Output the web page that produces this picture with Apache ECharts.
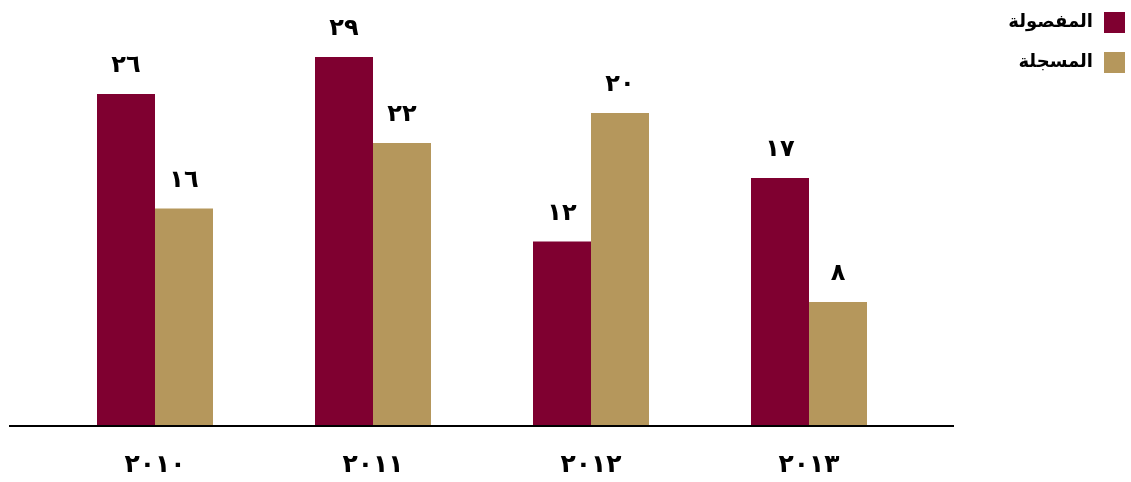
<!DOCTYPE html>
<html>
<head>
<meta charset="utf-8">
<script src="https://cdn.jsdelivr.net/npm/echarts@6/dist/echarts.min.js"></script>
<style>html,body{margin:0;padding:0;background:#fff;}#c{width:1131px;height:482px;}</style>
</head>
<body>
<div id="c"></div>
<script>
var categories = ['٢٠١٠', '٢٠١١', '٢٠١٢', '٢٠١٣'];
var seriesNames = ['المفصولة', 'المسجلة'];
// bar heights as drawn in the picture
var dismissedBars = [26.1, 29, 14.5, 19.5];
var registeredBars = [17.1, 22.25, 24.6, 9.75];
// numbers printed above the bars
var dismissedLabels = ['٢٦', '٢٩', '١٢', '١٧'];
var registeredLabels = ['١٦', '٢٢', '٢٠', '٨'];

var chart = echarts.init(document.getElementById('c'));
var font = "'DejaVu Sans', sans-serif";
function lbl(arr) {
  return {
    show: true, position: 'top', distance: 16,
    fontFamily: font, fontWeight: 'bold', fontSize: 24, color: '#000',
    formatter: function (p) { return arr[p.dataIndex]; }
  };
}
chart.setOption({
  animation: false,
  grid: { left: 46, right: 213, top: 44.4, bottom: 56 },
  legend: {
    orient: 'vertical', right: 6, top: 12, align: 'right', padding: 0,
    itemWidth: 21, itemHeight: 21, itemGap: 19,
    icon: 'rect',
    textStyle: { fontFamily: font, fontWeight: 'bold', fontSize: 18, color: '#000', padding: [0, 6, 0, 0] },
    data: seriesNames
  },
  xAxis: {
    type: 'category', data: categories,
    axisLine: { show: false }, axisTick: { show: false },
    axisLabel: { margin: 27, fontFamily: font, fontWeight: 'bold', fontSize: 25, color: '#000' }
  },
  yAxis: {
    type: 'value', min: 0, max: 30,
    show: false, splitLine: { show: false }
  },
  series: [
    { name: seriesNames[0], type: 'bar', data: dismissedBars, barWidth: 58, barGap: '0%',
      itemStyle: { color: '#7f0030' }, label: lbl(dismissedLabels) },
    { name: seriesNames[1], type: 'bar', data: registeredBars, barWidth: 58,
      itemStyle: { color: '#b5975c' }, label: lbl(registeredLabels) }
  ],
  graphic: [{
    type: 'line', shape: { x1: 9, y1: 426, x2: 954, y2: 426 },
    style: { stroke: '#000', lineWidth: 2 }, z: 10
  }]
});
</script>
</body>
</html>
